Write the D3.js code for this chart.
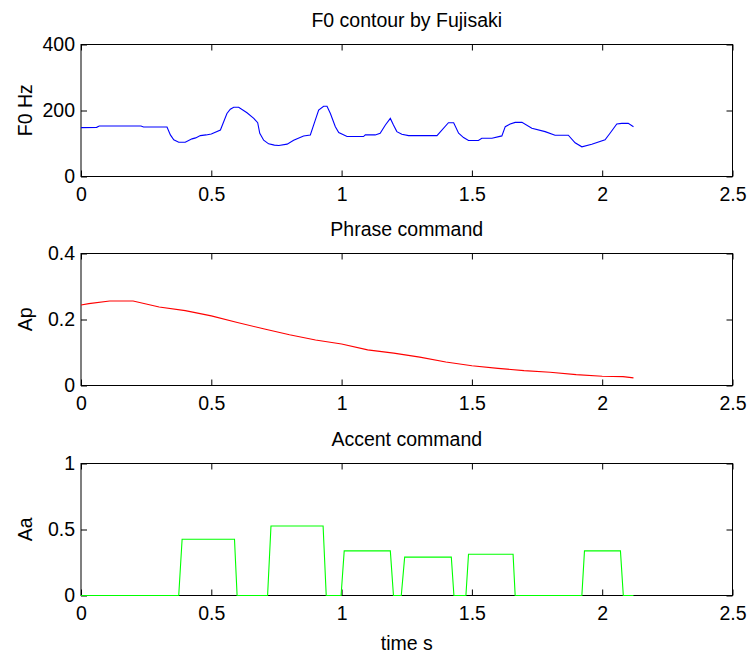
<!DOCTYPE html>
<meta charset="utf-8">
<style>

body { margin: 0; background: #fff; }

text {
  font-family: "Liberation Sans", Arial, Helvetica, sans-serif;
  font-size: 19.5px;
  fill: #000;
}

.box {
  fill: none;
  stroke: #000;
  stroke-width: 1px;
}

.axis path { display: none; }
.axis line { stroke: #000; }

</style>
<svg width="750" height="655"></svg>
<script src="https://d3js.org/d3.v7.min.js"></script>
<script>

// F0 contour (Hz)
var f0Time = [0, 0.06, 0.07, 0.23, 0.24, 0.33, 0.343, 0.356, 0.375, 0.40, 0.426, 0.44, 0.458, 0.48, 0.50, 0.535,
  0.56, 0.573, 0.586, 0.605, 0.637, 0.663, 0.678, 0.686, 0.701, 0.72, 0.742, 0.759, 0.791, 0.816, 0.854, 0.88,
  0.899, 0.912, 0.931, 0.944, 0.957, 0.976, 0.989, 1.021, 1.084, 1.091, 1.129, 1.148, 1.168, 1.187, 1.199,
  1.212, 1.231, 1.257, 1.366, 1.41, 1.43, 1.449, 1.468, 1.487, 1.525, 1.538, 1.577, 1.615, 1.628, 1.647,
  1.666, 1.692, 1.73, 1.781, 1.819, 1.87, 1.896, 1.922, 1.96, 2.011, 2.03, 2.056, 2.075, 2.1, 2.12];
var f0Hz = [148, 149, 153, 153, 150, 150, 126, 111, 104, 104, 114, 117, 124, 126, 129, 141,
  191, 204, 210, 210, 193, 176, 163, 131, 110, 99, 95, 94, 98, 110, 123, 126,
  171, 201, 213, 213, 191, 151, 133, 121, 121, 126, 126, 131, 156, 176, 156,
  136, 128, 124, 124, 163, 163, 131, 118, 109, 109, 116, 116, 123, 151, 159,
  164, 164, 146, 136, 125, 125, 102, 90, 98, 111, 131, 159, 161, 161, 151];

// phrase command
var apTime = [0, 0.03, 0.11, 0.2, 0.3, 0.4, 0.5, 0.6, 0.7, 0.8, 0.9, 1.0, 1.1, 1.2, 1.3, 1.4, 1.5, 1.6,
  1.7, 1.8, 1.9, 2.0, 2.08, 2.12];
var apVal = [0.244, 0.248, 0.256, 0.256, 0.238, 0.227, 0.211, 0.191, 0.172, 0.154, 0.138, 0.126, 0.108,
  0.098, 0.086, 0.071, 0.060, 0.052, 0.045, 0.040, 0.033, 0.028, 0.027, 0.023];

// accent command
var aaTime = [0, 0.375, 0.388, 0.589, 0.599, 0.716, 0.729, 0.929, 0.941, 0.998, 1.01, 1.187, 1.199, 1.229,
  1.242, 1.421, 1.431, 1.477, 1.487, 1.658, 1.666, 1.922, 1.932, 2.07, 2.081, 2.12];
var aaVal = [0, 0, 0.426, 0.426, 0, 0, 0.526, 0.526, 0, 0, 0.338, 0.338, 0, 0,
  0.291, 0.291, 0, 0, 0.313, 0.313, 0, 0, 0.338, 0.338, 0, 0];

var xTicks = [0, 0.5, 1, 1.5, 2, 2.5];

var panels = [
  { title: "F0 contour by Fujisaki", ylabel: "F0 Hz", top: 44, ymax: 400, yTicks: [0, 200, 400],
    t: f0Time, v: f0Hz, color: "#0000ff" },
  { title: "Phrase command", ylabel: "Ap", top: 253, ymax: 0.4, yTicks: [0, 0.2, 0.4],
    t: apTime, v: apVal, color: "#ff0000" },
  { title: "Accent command", ylabel: "Aa", top: 463, ymax: 1, yTicks: [0, 0.5, 1],
    t: aaTime, v: aaVal, color: "#00ff00" }
];

var svg = d3.select("svg"),
    left = 81,
    right = 732.5,
    ph = 132.5,
    tick = 6;

var x = d3.scaleLinear().domain([0, 2.5]).range([left, right]);
var fmt = function(d) { return String(d); };

panels.forEach(function(p, i) {
  var y = d3.scaleLinear().domain([0, p.ymax]).range([p.top + ph, p.top + 0.5]);
  var g = svg.append("g");

  g.append("g")
      .attr("class", "axis")
      .attr("transform", "translate(0," + (p.top + ph) + ")")
      .call(d3.axisBottom(x).tickValues(xTicks).tickSize(-tick).tickPadding(11).tickFormat(fmt))
      .call(function(a) { a.selectAll("text").attr("font-size", null).attr("font-family", null); });

  g.append("g")
      .attr("class", "axis")
      .attr("transform", "translate(0," + (p.top + 0.5) + ")")
      .call(d3.axisTop(x).tickValues(xTicks).tickSize(-tick).tickFormat(""));

  g.append("g")
      .attr("class", "axis")
      .attr("transform", "translate(" + left + ",0)")
      .call(d3.axisLeft(y).tickValues(p.yTicks).tickSize(-tick).tickPadding(6).tickFormat(fmt))
      .call(function(a) { a.selectAll("text").attr("font-size", null).attr("font-family", null); });

  g.append("g")
      .attr("class", "axis")
      .attr("transform", "translate(" + right + ",0)")
      .call(d3.axisRight(y).tickValues(p.yTicks).tickSize(-tick).tickFormat(""));

  g.append("rect")
      .attr("class", "box")
      .attr("x", left)
      .attr("y", p.top + 0.5)
      .attr("width", right - left)
      .attr("height", ph - 0.5);

  var line = d3.line()
      .x(function(d) { return x(d[0]); })
      .y(function(d) { return y(d[1]); });

  g.append("path")
      .datum(d3.zip(p.t, p.v))
      .attr("fill", "none")
      .attr("stroke", p.color)
      .attr("stroke-width", 1.1)
      .attr("d", line);

  g.append("text")
      .attr("x", (left + right) / 2)
      .attr("y", p.top - 17)
      .attr("text-anchor", "middle")
      .text(p.title);

  g.append("text")
      .attr("transform", "translate(32," + (p.top + ph / 2) + ") rotate(-90)")
      .attr("text-anchor", "middle")
      .text(p.ylabel);
});

svg.append("text")
    .attr("x", (left + right) / 2)
    .attr("y", 650)
    .attr("text-anchor", "middle")
    .text("time s");

</script>
